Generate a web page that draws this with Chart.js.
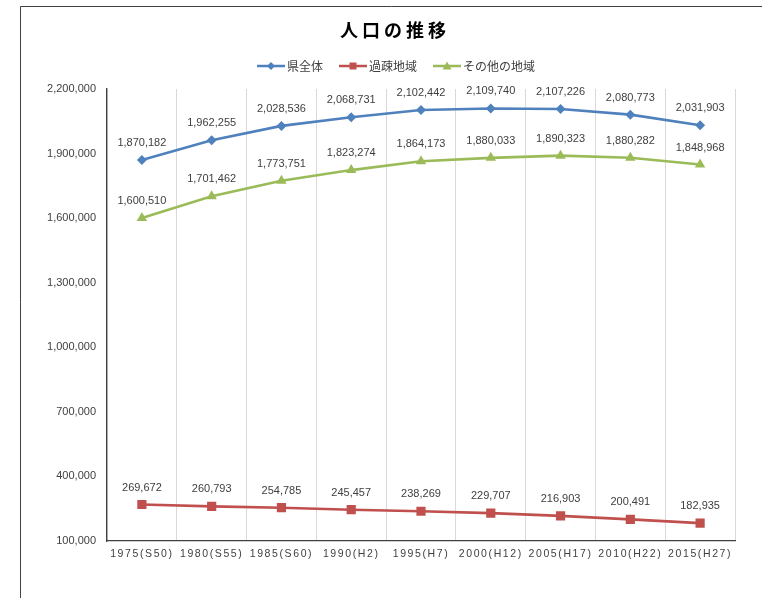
<!DOCTYPE html>
<html>
<head>
<meta charset="utf-8">
<script src="https://cdn.jsdelivr.net/npm/chart.js@4/dist/chart.umd.min.js"></script>
<style>
  html, body { margin: 0; padding: 0; background: #fff; }
  #wrap { position: relative; width: 762px; height: 598px; }
</style>
</head>
<body>
<div id="wrap"><canvas id="chart" width="762" height="598"></canvas></div>
<script>
// ===== 人口の推移 =====

const categories = ['1975(S50)', '1980(S55)', '1985(S60)', '1990(H2)', '1995(H7)', '2000(H12)', '2005(H17)', '2010(H22)', '2015(H27)'];
const kenZentai = [1870182, 1962255, 2028536, 2068731, 2102442, 2109740, 2107226, 2080773, 2031903];
const kasoChiiki = [269672, 260793, 254785, 245457, 238269, 229707, 216903, 200491, 182935];
const sonotaChiiki = [1600510, 1701462, 1773751, 1823274, 1864173, 1880033, 1890323, 1880282, 1848968];
const yTicks = [100000, 400000, 700000, 1000000, 1300000, 1600000, 1900000, 2200000];

const BLUE = '#4F81BD';
const RED = '#C0504D';
const GREEN = '#9BBB59';
const TEXT = '#404040';
const FONT = '"Liberation Sans", "Noto Sans CJK JP", sans-serif';
const JP_FONT = '"Noto Sans CJK JP", sans-serif';

const fmt = v => v.toLocaleString('en-US');

// frame, title, legend, data labels
const decoPlugin = {
    id: 'deco',
    beforeDraw(chart) {
        const ctx = chart.ctx;
        ctx.save();
        ctx.strokeStyle = '#404040';
        ctx.lineWidth = 1;
        ctx.beginPath();
        ctx.moveTo(20.5, 598);
        ctx.lineTo(20.5, 6.5);
        ctx.lineTo(762, 6.5);
        ctx.stroke();
        ctx.restore();
    },
    afterDatasetsDraw(chart) {
        const ctx = chart.ctx;
        ctx.save();
        ctx.font = '11px ' + FONT;
        ctx.fillStyle = TEXT;
        ctx.textAlign = 'center';
        ctx.textBaseline = 'middle';
        chart.data.datasets.forEach((ds, i) => {
            chart.getDatasetMeta(i).data.forEach((pt, j) => {
                ctx.fillText(fmt(ds.data[j]), pt.x, pt.y - 17);
            });
        });
        ctx.restore();
        // x tick labels (z: 1) are drawn after this, spaced out
        if ('letterSpacing' in ctx) ctx.letterSpacing = '1.6px';
    },
    afterDraw(chart) {
        const ctx = chart.ctx;
        if ('letterSpacing' in ctx) ctx.letterSpacing = '0px';

        // title
        ctx.save();
        ctx.font = 'bold 18px ' + JP_FONT;
        ctx.fillStyle = '#000';
        ctx.textAlign = 'center';
        ctx.textBaseline = 'middle';
        if ('letterSpacing' in ctx) ctx.letterSpacing = '4px';
        ctx.fillText('人口の推移', 395, 30);
        ctx.restore();

        // legend
        ctx.save();
        ctx.font = '12px ' + JP_FONT;
        ctx.textBaseline = 'middle';
        const y = 66;
        let x = 257;
        const markSize = [4, 3.5, 4.5];
        chart.data.datasets.forEach((ds, i) => {
            ctx.strokeStyle = ds.borderColor;
            ctx.lineWidth = 2.5;
            ctx.beginPath();
            ctx.moveTo(x, y);
            ctx.lineTo(x + 28, y);
            ctx.stroke();
            ctx.fillStyle = ds.borderColor;
            drawMarker(ctx, ds.pointStyle, x + 14, y, markSize[i]);
            ctx.fillStyle = TEXT;
            ctx.fillText(ds.label, x + 30, y);
            x += 30 + ctx.measureText(ds.label).width + 16;
        });
        ctx.restore();
    }
};

function drawMarker(ctx, style, x, y, r) {
    ctx.beginPath();
    if (style === 'rectRot') {
        ctx.moveTo(x, y - r); ctx.lineTo(x + r, y); ctx.lineTo(x, y + r); ctx.lineTo(x - r, y);
    } else if (style === 'rect') {
        ctx.rect(x - r, y - r, r * 2, r * 2);
    } else {
        ctx.moveTo(x, y - r); ctx.lineTo(x + r, y + r * 0.8); ctx.lineTo(x - r, y + r * 0.8);
    }
    ctx.closePath();
    ctx.fill();
}

const ctx = document.getElementById('chart').getContext('2d');
new Chart(ctx, {
    type: 'line',
    data: {
        labels: categories,
        datasets: [
            { label: '県全体', data: kenZentai, borderColor: BLUE, backgroundColor: BLUE, pointStyle: 'rectRot', pointRadius: 5 },
            { label: '過疎地域', data: kasoChiiki, borderColor: RED, backgroundColor: RED, pointStyle: 'rect', pointRadius: 6.5 },
            { label: 'その他の地域', data: sonotaChiiki, borderColor: GREEN, backgroundColor: GREEN, pointStyle: 'triangle', pointRadius: 6 }
        ]
    },
    options: {
        responsive: false,
        animation: false,
        layout: { padding: { left: 0, right: 27, top: 89, bottom: 0 } },
        elements: {
            line: { borderWidth: 2.6, tension: 0 },
            point: { borderWidth: 0, hoverRadius: 5 }
        },
        plugins: {
            legend: { display: false },
            title: { display: false },
            tooltip: { enabled: false }
        },
        scales: {
            x: {
                offset: true,
                grid: { display: true, offset: true, color: '#D9D9D9', drawTicks: false },
                border: { display: true, color: '#404040', width: 1.3 },
                ticks: { color: TEXT, font: { size: 10.5, family: FONT }, padding: 7, maxRotation: 0, autoSkip: false, z: 1 },
                afterFit(scale) { scale.height = 57; }
            },
            y: {
                min: 100000,
                max: 2200000,
                grid: { display: false, drawTicks: false },
                border: { display: true, color: '#404040', width: 1.3 },
                ticks: {
                    color: TEXT,
                    font: { size: 11, family: FONT },
                    padding: 11,
                    stepSize: 300000,
                    callback: v => yTicks.includes(v) ? fmt(v) : ''
                },
                afterFit(scale) { scale.width = 107; }
            }
        }
    },
    plugins: [decoPlugin]
});
</script>
</body>
</html>
